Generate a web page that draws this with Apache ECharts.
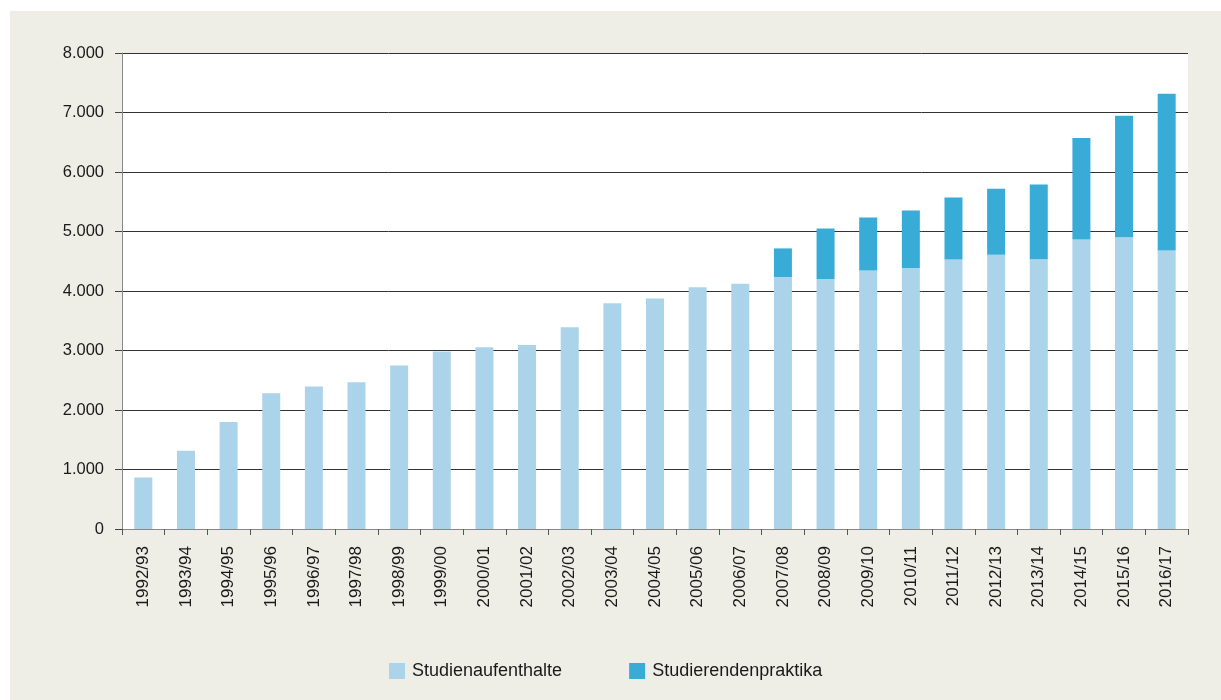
<!DOCTYPE html>
<html>
<head>
<meta charset="utf-8">
<script src="https://cdn.jsdelivr.net/npm/echarts@6/dist/echarts.min.js"></script>
<style>
html,body{margin:0;padding:0;background:#ffffff;}
#chart{position:absolute;left:10px;top:11px;width:1211px;height:689px;}
</style>
</head>
<body>
<div id="chart"></div>
<script>
const categories = ['1992/93','1993/94','1994/95','1995/96','1996/97','1997/98','1998/99','1999/00','2000/01','2001/02','2002/03','2003/04','2004/05','2005/06','2006/07','2007/08','2008/09','2009/10','2010/11','2011/12','2012/13','2013/14','2014/15','2015/16','2016/17'];
const studienaufenthalte = [865,1314,1798,2282,2393,2467,2750,2983,3055,3094,3392,3795,3874,4062,4123,4235,4202,4346,4387,4531,4610,4535,4866,4904,4681];
const studierendenpraktika = [0,0,0,0,0,0,0,0,0,0,0,0,0,0,0,481,848,888,965,1039,1110,1257,1705,2040,2633];
const yTicks = [0,1000,2000,3000,4000,5000,6000,7000,8000];
const seriesNames = ['Studienaufenthalte','Studierendenpraktika'];

function fmt(v){ return String(v).replace(/\B(?=(\d{3})+(?!\d))/g,'.'); }

const chart = echarts.init(document.getElementById('chart'), null, {renderer:'canvas'});
chart.setOption({
  backgroundColor:'#eeede6',
  animation:false,
  grid:{left:112,right:33,top:42,bottom:171,show:true,backgroundColor:'#ffffff',borderWidth:0},
  legend:{
    data:seriesNames,
    top:651,
    left:379,
    padding:0,
    icon:'rect',
    itemWidth:16,itemHeight:16,itemGap:67,
    textStyle:{fontFamily:'"Liberation Sans",Arial,sans-serif',fontSize:18,color:'#1a1a1a',padding:[0,0,0,2]}
  },
  xAxis:{
    type:'category',
    data:categories,
    axisLine:{lineStyle:{color:'#888888',width:1}},
    axisTick:{show:true,length:6,lineStyle:{color:'#555555'}},
    axisLabel:{rotate:90,margin:17,fontFamily:'"Liberation Sans",Arial,sans-serif',fontSize:17,color:'#1a1a1a'}
  },
  yAxis:{
    type:'value',
    min:yTicks[0],max:yTicks[yTicks.length-1],interval:yTicks[1]-yTicks[0],
    axisLine:{show:true,lineStyle:{color:'#888888',width:1}},
    axisTick:{show:true,length:7,lineStyle:{color:'#444444'}},
    splitLine:{show:true,lineStyle:{color:'#333333',width:1}},
    axisLabel:{margin:18,formatter:fmt,fontFamily:'"Liberation Sans",Arial,sans-serif',fontSize:16.5,color:'#1a1a1a'}
  },
  series:[
    {name:seriesNames[0],type:'bar',stack:'total',data:studienaufenthalte,barWidth:18,
     itemStyle:{color:'#abd3ea'}},
    {name:seriesNames[1],type:'bar',stack:'total',data:studierendenpraktika,barWidth:18,
     itemStyle:{color:'#38acd7'}}
  ]
});
</script>
</body>
</html>
